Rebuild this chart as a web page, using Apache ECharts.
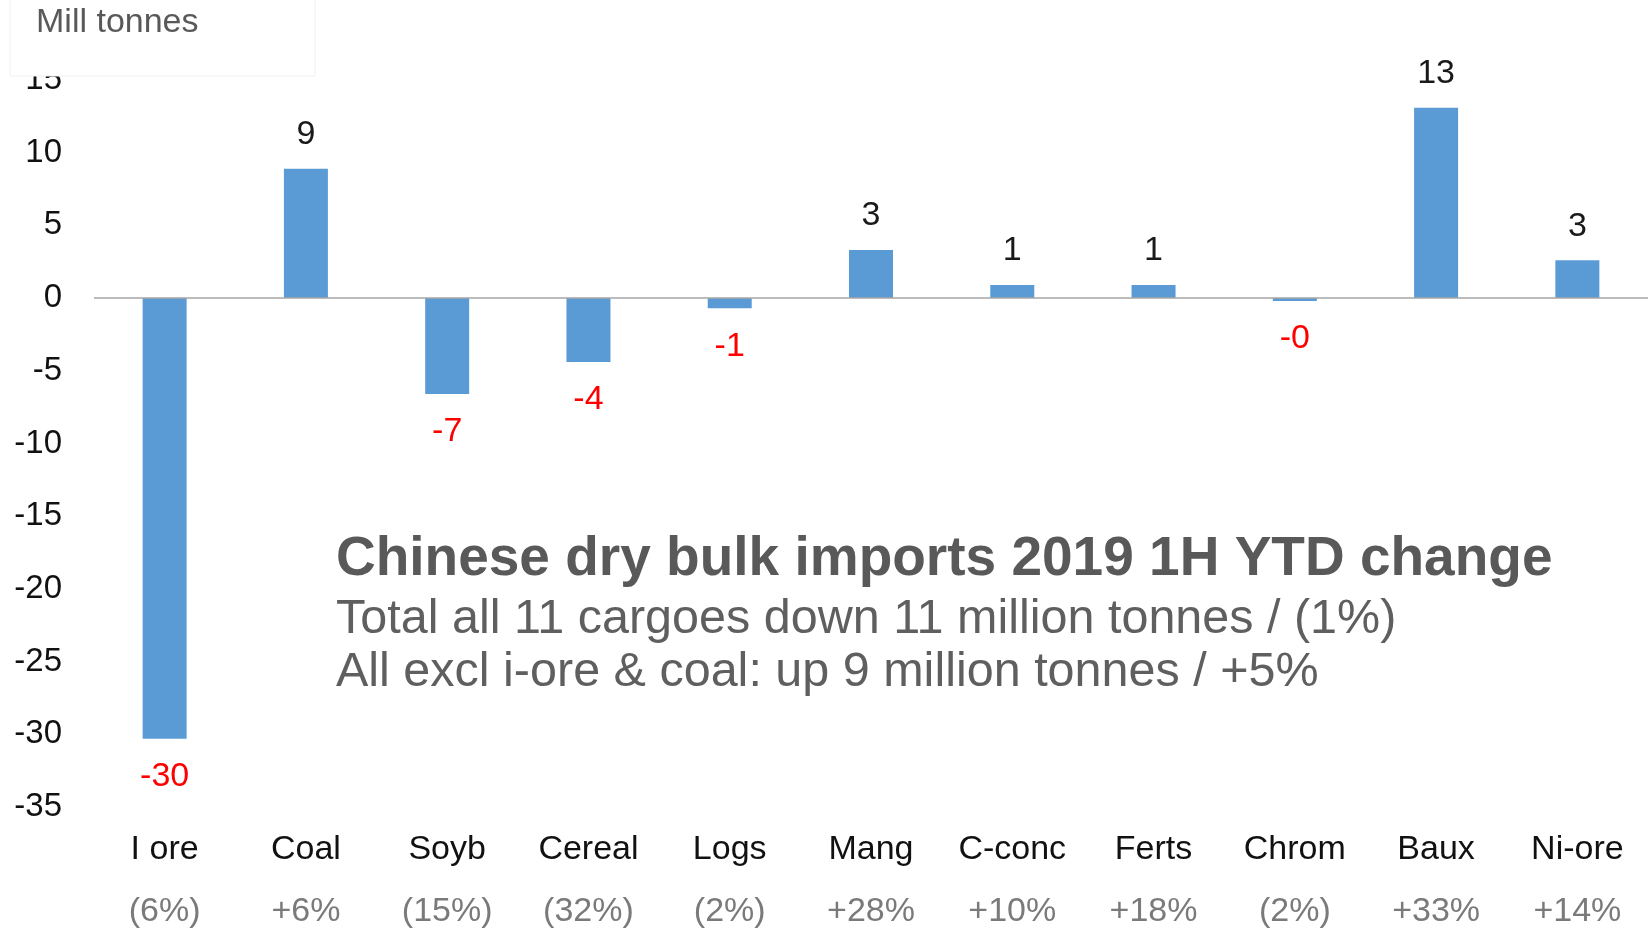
<!DOCTYPE html>
<html>
<head>
<meta charset="utf-8">
<style>
  html, body { margin: 0; padding: 0; background: #ffffff; }
  #chart { width: 1648px; height: 930px; }
</style>
<script src="https://cdn.jsdelivr.net/npm/echarts@6/dist/echarts.min.js"></script>
</head>
<body>
<div id="chart"></div>
<script>
// Chinese dry bulk imports, 1H 2019 year-on-year change (million tonnes)
const categories = ['I ore', 'Coal', 'Soyb', 'Cereal', 'Logs', 'Mang', 'C-conc', 'Ferts', 'Chrom', 'Baux', 'Ni-ore'];
const changes = [-30.3, 8.9, -6.6, -4.4, -0.7, 3.3, 0.9, 0.9, -0.2, 13.1, 2.6];
const pctChange = ['(6%)', '+6%', '(15%)', '(32%)', '(2%)', '+28%', '+10%', '+18%', '(2%)', '+33%', '+14%'];
const yMin = -35;
const yMax = 15;
const yStep = 5;

const titleText = 'Chinese dry bulk imports 2019 1H YTD change';
const subLines = [
  'Total all 11 cargoes down 11 million tonnes / (1%)',
  'All excl i-ore & coal: up 9 million tonnes / +5%'
];
const unitText = 'Mill tonnes';

const FONT = '"Liberation Sans", Arial, sans-serif';

const barData = changes.map(v => ({
  value: v,
  label: v >= 0
    ? { position: 'top', distance: 17, color: '#1a1a1a' }
    : { position: 'bottom', distance: 21, color: '#ff0000' }
}));

const chart = echarts.init(document.getElementById('chart'), null, { renderer: 'canvas' });

chart.setOption({
  backgroundColor: '#ffffff',
  animation: false,
  textStyle: { fontFamily: FONT },
  title: {
    left: 331,
    top: 527,
    itemGap: 6,
    text: titleText,
    textStyle: {
      fontFamily: FONT,
      fontSize: 55,
      fontWeight: 'bold',
      color: '#595959',
      lineHeight: 55
    },
    subtext: subLines.join('\n'),
    subtextStyle: {
      fontFamily: FONT,
      fontSize: 48.5,
      color: '#5f5f5f',
      lineHeight: 53
    }
  },
  grid: {
    left: 94,
    right: 0,
    top: 80,
    bottom: 123,
    containLabel: false
  },
  xAxis: {
    type: 'category',
    data: categories,
    axisLine: { show: false, onZero: false },
    axisTick: { show: false },
    splitLine: { show: false },
    axisLabel: {
      interval: 0,
      margin: 12,
      formatter: (val, idx) => '{c|' + val + '}\n{p|' + pctChange[idx] + '}',
      rich: {
        c: { fontFamily: FONT, fontSize: 34, color: '#111111', lineHeight: 62, align: 'center' },
        p: { fontFamily: FONT, fontSize: 34, color: '#7a7a7a', lineHeight: 62, align: 'center' }
      }
    }
  },
  yAxis: {
    type: 'value',
    min: yMin,
    max: yMax,
    interval: yStep,
    axisLine: { show: false },
    axisTick: { show: false },
    splitLine: { show: false },
    axisLabel: {
      margin: 32,
      fontFamily: FONT,
      fontSize: 33,
      color: '#111111'
    }
  },
  series: [{
    type: 'bar',
    data: barData,
    barWidth: 44,
    itemStyle: { color: '#5b9bd5' },
    label: {
      show: true,
      fontFamily: FONT,
      fontSize: 34,
      lineHeight: 34,
      formatter: p => Number(p.value).toFixed(0)
    },
    markLine: {
      silent: true,
      symbol: ['none', 'none'],
      label: { show: false },
      lineStyle: { color: '#a6a6a6', width: 1.5, type: 'solid' },
      data: [{ yAxis: 0 }]
    }
  }],
  graphic: [
    {
      type: 'rect',
      z: 100,
      shape: { x: 10, y: -2, width: 305, height: 78 },
      style: { fill: '#ffffff', stroke: '#f0f0f0', lineWidth: 1 }
    },
    {
      type: 'text',
      z: 101,
      x: 36,
      y: 23,
      style: {
        text: unitText,
        font: '34px ' + FONT,
        fill: '#595959',
        verticalAlign: 'middle'
      }
    }
  ]
});
</script>
</body>
</html>
